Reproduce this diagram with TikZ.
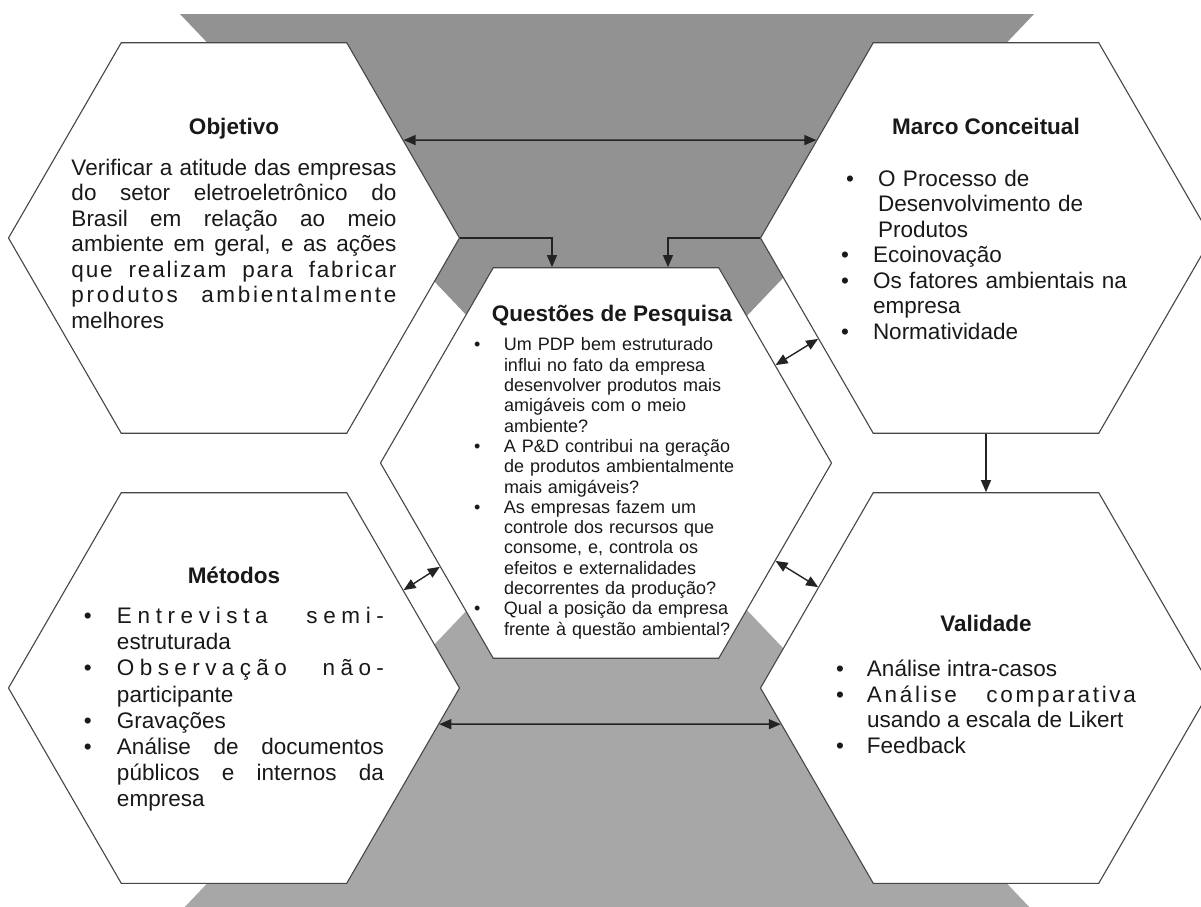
\documentclass[tikz,border=0pt]{standalone}
\usepackage{fontspec}
\setmainfont{Liberation Sans}
\usetikzlibrary{arrows.meta,positioning,shapes.geometric}

\definecolor{topgray}{RGB}{146,146,146}
\definecolor{botgray}{RGB}{167,167,167}
\definecolor{hexline}{RGB}{70,70,70}
\definecolor{arrowcol}{RGB}{35,35,35}
\definecolor{textcol}{RGB}{25,25,25}

\hyphenpenalty=10000
\newlength{\itemind}
\newcommand{\hexfont}{\fontsize{22.5bp}{25.5bp}\selectfont}
\newcommand{\qfont}{\fontsize{18bp}{20.3bp}\selectfont}
\newcommand{\bitem}[2][0bp]{\par\hangindent=\dimexpr\itemind+#1\relax\hangafter=1
  \noindent\hspace*{#1}\makebox[\itemind][l]{\textbullet}#2}
\newcommand{\spaced}[2]{{\addfontfeature{LetterSpace=#1}#2}}

\begin{document}
\begin{tikzpicture}[
    x=1bp, y=-1bp,
    hexa/.style={regular polygon, regular polygon sides=6, minimum size=451bp, inner sep=0pt,
      draw=hexline, line width=1.1bp, fill=white},
    ttl/.style={font=\hexfont\bfseries, text=textcol, inner sep=0pt},
    body/.style={font=\hexfont, text=textcol, inner sep=0pt},
    arr/.style={-{Triangle[length=12bp,width=10bp]}, line width=1.4bp, draw=arrowcol},
    dbl/.style={{Triangle[length=12bp,width=10bp]}-{Triangle[length=12bp,width=10bp]}, line width=1.4bp, draw=arrowcol}
  ]
    \useasboundingbox (0,0) rectangle (1201,907);

    % background hourglass
    \fill[topgray] (180,14) -- (1034,14) -- (607,463) -- cycle;
    \fill[botgray] (607,463) -- (1034,912) -- (180,912) -- cycle;

    % hexagons
    \node[hexa] (obj) at (234,238) {};
    \node[hexa] (mar) at (986,238) {};
    \node[hexa] (cen) at (606,463) {};
    \node[hexa] (met) at (234,688) {};
    \node[hexa] (val) at (986,688) {};

    % Objetivo
    \node[ttl, below=75.7bp of obj.north] (obj-title) {Objetivo};
    \node[body, text width=325bp, align=justify, below=19.7bp of obj-title] (obj-body)
      {Verificar a atitude das empresas\linebreak do setor eletroeletrônico do\linebreak
       Brasil em relação ao meio\linebreak ambiente em geral, e as ações\linebreak
       \spaced{8}{que realizam para fabricar}\linebreak
       \spaced{12}{produtos ambientalmente}\linebreak melhores\par};

    % Marco Conceitual
    \node[ttl, below=75.7bp of mar.north] (mar-title) {Marco Conceitual};
    \node[body, text width=290bp, align=left, below=26bp of mar-title] (mar-body)
      {\setlength{\itemind}{32bp}%
       \bitem[5bp]{O Processo de\linebreak Desenvolvimento de\linebreak Produtos}
       \bitem{Ecoinovação}
       \bitem{Os fatores ambientais na\linebreak empresa}
       \bitem{Normatividade}\par};

    % Questoes de Pesquisa
    \node[ttl, below=38bp of cen.north, xshift=6bp] (cen-title) {Questões de Pesquisa};
    \node[body, font=\qfont, text width=264bp, align=left, below=3.9bp of cen-title, xshift=-6bp] (cen-body)
      {\setlength{\itemind}{30bp}%
       \bitem{Um PDP bem estruturado\linebreak influi no fato da empresa\linebreak
         desenvolver produtos mais\linebreak amigáveis com o meio\linebreak ambiente?}
       \bitem{A P\&D contribui na geração\linebreak de produtos ambientalmente\linebreak
         mais amigáveis?}
       \bitem{As empresas fazem um\linebreak controle dos recursos que\linebreak
         consome, e, controla os\linebreak efeitos e externalidades\linebreak
         decorrentes da produção?}
       \bitem{Qual a posição da empresa\linebreak frente à questão ambiental?}\par};

    % Metodos
    \node[ttl, below=74.2bp of met.north] (met-title) {Métodos};
    \node[body, font={\fontsize{22.5bp}{26.2bp}\selectfont}, text width=300bp, align=justify,
      below=13.7bp of met-title] (met-body)
      {\setlength{\itemind}{33bp}%
       \bitem{\spaced{25}{Entrevista semi-}\linebreak estruturada}
       \bitem{\spaced{24}{Observação não-}\linebreak participante}
       \bitem{Gravações}
       \bitem{Análise de documentos\linebreak públicos e internos da\linebreak empresa}\par};

    % Validade
    \node[ttl, below=122.7bp of val.north] (val-title) {Validade};
    \node[body, text width=300bp, align=justify, below=19.2bp of val-title] (val-body)
      {\setlength{\itemind}{31bp}%
       \bitem{Análise intra-casos}
       \bitem{\spaced{12}{Análise comparativa}\linebreak usando a escala de Likert}
       \bitem{Feedback}\par};

    % connectors
    \draw[dbl] (obj.30) -- (mar.150);
    \draw[arr] (obj.0) -| ([xshift=-54bp]cen.north);
    \draw[arr] (mar.180) -| ([xshift=62bp]cen.north);
    \draw[arr] (mar.south) -- (val.north);
    \draw[dbl] (cen.30) -- (mar.211);
    \draw[dbl] (cen.-30) -- (val.149);
    \draw[dbl] (met.30) -- (cen.212);
    \draw[dbl] (met.-10) -- (val.190);
  \end{tikzpicture}
\end{document}
